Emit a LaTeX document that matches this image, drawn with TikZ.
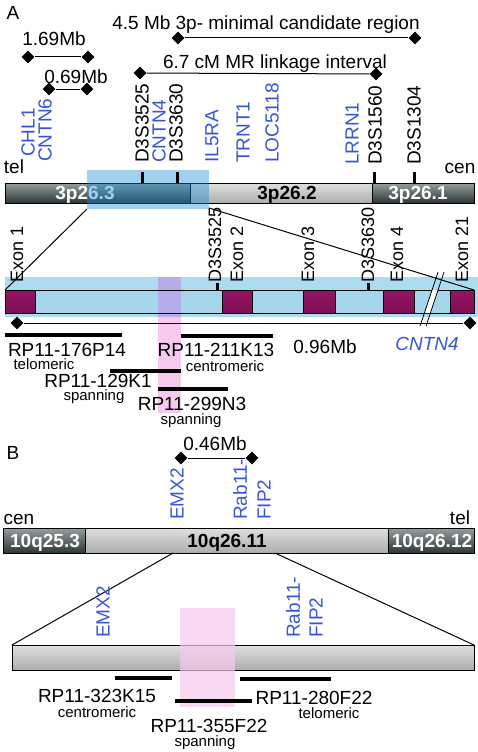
\documentclass[tikz,border=0pt]{standalone}
\usepackage{fontspec}
\setmainfont{Liberation Sans}
\usetikzlibrary{shapes.geometric}
\definecolor{gblue}{RGB}{55,85,215}
\definecolor{lblue}{RGB}{172,220,240}
\definecolor{barblue}{RGB}{165,214,236}
\definecolor{ovblue}{RGB}{20,140,210}
\definecolor{lav}{RGB}{182,172,236}
\definecolor{pinkc}{RGB}{246,202,236}
\definecolor{magT}{RGB}{150,20,100}
\definecolor{magM}{RGB}{205,45,140}
\definecolor{magB}{RGB}{125,15,85}
\definecolor{dkT}{RGB}{150,158,158}
\definecolor{dkM}{RGB}{105,115,115}
\definecolor{dkB}{RGB}{45,55,55}
\definecolor{ltT}{RGB}{222,224,224}
\definecolor{ltB}{RGB}{172,174,174}
\begin{document}
\begin{tikzpicture}[x=1pt,y=-1pt,
  lbl/.style={inner sep=0, anchor=base, font=\fontsize{19}{22}\selectfont},
  sml/.style={inner sep=0, anchor=base, font=\fontsize{15}{17}\selectfont},
  rotlbl/.style={inner sep=0, rotate=90, anchor=west, font=\fontsize{19}{22}\selectfont},
  rotsm/.style={inner sep=0, rotate=90, anchor=west, font=\fontsize{18}{20}\selectfont},
  chrlbl/.style={inner sep=0, anchor=base, font=\bfseries\fontsize{19}{22}\selectfont},
  dia/.style={diamond, fill=black, draw=none, inner sep=0, minimum width=13pt, minimum height=13pt},
  clone/.style={line width=4pt},
  darkseg/.style={top color=dkT, middle color=dkM, bottom color=dkB},
  lightseg/.style={top color=ltT, middle color=white, bottom color=ltB},
  exonseg/.style={top color=magT, middle color=magM, bottom color=magB},
  tick/.style={line width=3pt},
  conn/.style={line width=1pt}
]
\useasboundingbox (0,0) rectangle (478,752);
\fill[white] (0,0) rectangle (478,752);

%% ---------------- Panel A ----------------
\node[lbl] (labA) at (13,20) {A};

\node[lbl] (t45) at (266,30) {4.5 Mb 3p- minimal candidate region};
\node[dia] (d45a) at (178,38) {};
\node[dia] (d45b) at (415,38) {};
\draw[conn] (d45a) -- (d45b);

\node[lbl] (t169) at (54,46) {1.69Mb};
\node[dia] (d169a) at (28,57) {};
\node[dia] (d169b) at (88,57) {};
\draw[conn] (d169a) -- (d169b);

\node[lbl] (t67) at (275,68) {6.7 cM MR linkage interval};
\node[dia] (d67a) at (140,73) {};
\node[dia] (d67b) at (376,74) {};
\draw[conn] (d67a) -- (d67b);

\node[lbl] (t069) at (76,84) {0.69Mb};
\node[dia] (d069a) at (49,89) {};
\node[dia] (d069b) at (87,89) {};
\draw[conn] (d069a) -- (d069b);

% rotated gene / marker labels
\node[rotlbl, text=gblue] (gCHL1) at (28,157) {CHL1};
\node[rotlbl, text=gblue] (gCNTN6) at (45,162) {CNTN6};
\node[rotlbl] (mD3525) at (142,163) {D3S3525};
\node[rotlbl, text=gblue] (gCNTN4) at (159,163) {CNTN4};
\node[rotlbl] (mD3630) at (176,163) {D3S3630};
\node[rotlbl, text=gblue] (gIL5RA) at (212,163) {IL5RA};
\node[rotlbl, text=gblue] (gTRNT1) at (243,163) {TRNT1};
\node[rotlbl, text=gblue] (gLOC) at (272,163) {LOC5118};
\node[rotlbl, text=gblue] (gLRRN1) at (352,165) {LRRN1};
\node[rotlbl] (mD1560) at (375,165) {D3S1560};
\node[rotlbl] (mD1304) at (414,165) {D3S1304};

\node[lbl] (tel1) at (14,173) {tel};
\node[lbl] (cen1) at (460,173) {cen};

% chromosome 3 bar
\shade[darkseg] (5,183) rectangle (190,203);
\shade[lightseg] (190,183) rectangle (372,203);
\shade[darkseg] (372,183) rectangle (474,203);
\draw[line width=0.8pt] (5,183) rectangle (474,203);
\draw[line width=0.8pt] (190,183) -- (190,203);
\draw[line width=0.8pt] (372,183) -- (372,203);
\node[chrlbl, text=white] (b263) at (85,199) {3p26.3};
\node[chrlbl] (b262) at (287,199) {3p26.2};
\node[chrlbl, text=white] (b261) at (418,199) {3p26.1};
\fill[ovblue, opacity=0.4] (87,170) rectangle (209,209);
\draw[tick] (142,172) -- (142,183);
\draw[tick] (177,172) -- (177,183);
\draw[tick] (374,172) -- (374,183);
\draw[tick] (414,172) -- (414,183);

% expansion to CNTN4 gene
\fill[lblue] (5,277) rectangle (478,317);
\fill[barblue] (5,290) rectangle (474,313);
\shade[exonseg] (5,290) rectangle (35,313);
\shade[exonseg] (222,290) rectangle (252,313);
\shade[exonseg] (303,290) rectangle (335,313);
\shade[exonseg] (383,290) rectangle (414,313);
\shade[exonseg] (450,290) rectangle (474,313);
\fill[lav] (158,277) rectangle (181,317);
\fill[pinkc] (158,317) rectangle (181,413);
\draw[line width=0.8pt] (5,290) rectangle (474,313);
\foreach \xx in {35,222,252,303,335,383,414,450}
  \draw[line width=0.8pt] (\xx,290) -- (\xx,313);
% break
\fill[white] (432,290) -- (438,290) -- (430.3,313) -- (424.3,313) -- cycle;
\draw[line width=0.8pt] (420,326) -- (438,272);
\draw[line width=0.8pt] (426,326) -- (444,272);
\draw[tick] (217,283) -- (217,290);
\draw[tick] (368,283) -- (368,290);

\coordinate (zA1) at (87,209);
\coordinate (zA2) at (5,290);
\coordinate (zA3) at (209,208);
\coordinate (zA4) at (474,290);
\draw[conn] (zA1) -- (zA2);
\draw[conn] (zA3) -- (zA4);

\node[rotsm] (ex1) at (17,283) {Exon 1};
\node[rotsm] (eD3525) at (215,283) {D3S3525};
\node[rotsm] (ex2) at (237,283) {Exon 2};
\node[rotsm] (ex3) at (308,283) {Exon 3};
\node[rotsm] (eD3630) at (368,283) {D3S3630};
\node[rotsm] (ex4) at (397,283) {Exon 4};
\node[rotsm] (ex21) at (462,283) {Exon 21};

% 0.96 Mb scale line
\node[dia] (d96a) at (17,323) {};
\node[dia] (d96b) at (470,323) {};
\draw[conn] (d96a) -- (d96b);

% BAC clones A
\draw[clone] (5,335) -- (122,335);
\draw[clone] (181,336) -- (273,336);
\draw[clone] (110,371) -- (181,371);
\draw[clone] (158,389) -- (228,389);
\node[lbl] (c176) at (67,356) {RP11-176P14};
\node[sml] (c176s) at (44,369) {telomeric};
\node[lbl] (c211) at (216,356) {RP11-211K13};
\node[sml] (c211s) at (225,371) {centromeric};
\node[lbl] (t096) at (325,353) {0.96Mb};
\node[lbl, text=gblue, font=\itshape\fontsize{19}{22}\selectfont] (gCNTN4b) at (427,350) {CNTN4};
\node[lbl] (c129) at (98,387) {RP11-129K1};
\node[sml] (c129s) at (94,400) {spanning};
\node[lbl] (c299) at (192,410) {RP11-299N3};
\node[sml] (c299s) at (191,424) {spanning};

%% ---------------- Panel B ----------------
\node[lbl] (labB) at (13,459) {B};
\node[lbl] (t046) at (215,450) {0.46Mb};
\node[dia] (d46a) at (181,458) {};
\node[dia] (d46b) at (252,458) {};
\draw[conn] (d46a) -- (d46b);
\node[rotlbl, text=gblue] (gEMX2) at (177,520) {EMX2};
\node[rotlbl, text=gblue] (gRab) at (240,520) {Rab11-};
\node[rotlbl, text=gblue] (gFIP) at (264,520) {FIP2};
\node[lbl] (cen2) at (19,524) {cen};
\node[lbl] (tel2) at (460,524) {tel};

\shade[darkseg] (3,528) rectangle (85,553);
\shade[lightseg] (85,528) rectangle (388,553);
\shade[darkseg] (388,528) rectangle (474,553);
\draw[line width=0.8pt] (3,528) rectangle (474,553);
\draw[line width=0.8pt] (85,528) -- (85,553);
\draw[line width=0.8pt] (388,528) -- (388,553);
\node[chrlbl, text=white] (b253) at (45,547) {10q25.3};
\node[chrlbl] (b2611) at (227,547) {10q26.11};
\node[chrlbl, text=white] (b2612) at (432,547) {10q26.12};

\coordinate (zB1) at (173,553);
\coordinate (zB2) at (12,645);
\coordinate (zB3) at (275,553);
\coordinate (zB4) at (474,645);
\draw[conn] (zB1) -- (zB2);
\draw[conn] (zB3) -- (zB4);

\shade[lightseg] (12,645) rectangle (474,670);
\draw[line width=0.8pt] (12,645) rectangle (474,670);
\fill[pinkc, opacity=0.7] (180,608) rectangle (235,707);

\node[rotlbl, text=gblue] (gEMX2b) at (103,638) {EMX2};
\node[rotlbl, text=gblue] (gRabb) at (293,638) {Rab11-};
\node[rotlbl, text=gblue] (gFIPb) at (316,638) {FIP2};

\draw[clone] (115,678) -- (172,678);
\draw[clone] (240,679) -- (331,679);
\draw[clone] (175,701) -- (252,701);
\node[lbl] (c323) at (97,702) {RP11-323K15};
\node[sml] (c323s) at (97,717) {centromeric};
\node[lbl] (c280) at (314,704) {RP11-280F22};
\node[sml] (c280s) at (329,718) {telomeric};
\node[lbl] (c355) at (209,732) {RP11-355F22};
\node[sml] (c355s) at (205,746) {spanning};
\end{tikzpicture}
\end{document}
